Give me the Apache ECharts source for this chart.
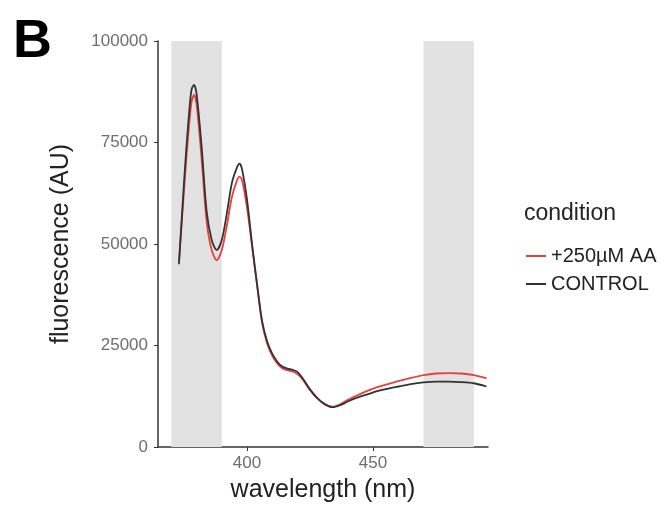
<!DOCTYPE html>
<html>
<head>
<meta charset="utf-8">
<script src="https://cdn.jsdelivr.net/npm/echarts@6/dist/echarts.min.js"></script>
<style>
  html, body { margin: 0; padding: 0; background: #fff; }
  #container { width: 665px; height: 508px; }
</style>
</head>
<body>
<div id="container"></div>
<script>
// wavelengths (nm) and fluorescence readings (AU)
var wavelengths = [373, 375, 376, 377, 378, 379, 380, 382, 384, 386, 388, 390, 392, 394, 396, 397, 398,
  400, 402, 404, 406, 408, 410, 412, 414, 416, 418, 420, 422, 425, 428, 431, 434, 437, 440,
  444, 448, 452, 456, 460, 465, 470, 475, 480, 485, 490, 495];

var control = [45000, 65000, 74000, 82000, 88000, 89200, 87000, 74000, 58000, 51000, 48500, 51000, 57500, 65000, 68800, 69800, 68500,
  61000, 50000, 40000, 31000, 26000, 23000, 21000, 19800, 19300, 19000, 18500, 17000, 14200, 12000, 10500, 9800, 10300, 11200,
  12200, 13000, 13800, 14400, 14900, 15500, 15900, 16100, 16100, 16000, 15700, 14900];

var aa = [45500, 63000, 71500, 79000, 85000, 86700, 84500, 71000, 55500, 48500, 46000, 48500, 54500, 61500, 65600, 66600, 65800,
  59000, 49500, 40000, 30500, 25500, 22500, 20600, 19400, 18900, 18600, 18000, 16700, 14000, 11900, 10500, 9900, 10500, 11600,
  12800, 13900, 14800, 15500, 16200, 17000, 17700, 18100, 18200, 18100, 17700, 16900];

var shadedRanges = [[370, 390], [470, 490]];
var xTicks = [400, 450];
var seriesNames = ['+250µM AA', 'CONTROL'];

function pairs(xs, ys) {
  return xs.map(function (x, i) { return [x, ys[i]]; });
}

var dom = document.getElementById('container');
var myChart = echarts.init(dom, null, { renderer: 'canvas' });

var font = 'Liberation Sans, Arial, sans-serif';

var option = {
  animation: false,
  backgroundColor: '#ffffff',
  title: [
    {
      text: 'B',
      left: 8,
      top: 10,
      textStyle: { fontSize: 54, fontWeight: 'bold', color: '#000', fontFamily: font }
    },
    {
      text: 'condition',
      left: 519,
      top: 197,
      textStyle: { fontSize: 23, fontWeight: 'normal', color: '#222', fontFamily: font }
    }
  ],
  legend: {
    data: seriesNames,
    orient: 'vertical',
    left: 521,
    top: 241,
    itemWidth: 20,
    itemHeight: 2,
    itemGap: 8,
    icon: 'rect',
    textStyle: { fontSize: 20, color: '#222', fontFamily: font }
  },
  grid: {
    left: 158,
    right: 177,
    top: 41,
    bottom: 61
  },
  xAxis: {
    type: 'value',
    min: 364.7,
    max: 495.6,
    name: 'wavelength (nm)',
    nameLocation: 'middle',
    nameGap: 31,
    nameTextStyle: { fontSize: 25, color: '#222', fontFamily: font },
    axisLine: { onZero: false, lineStyle: { color: '#333', width: 1.5 } },
    axisTick: { show: true, customValues: xTicks, length: 4, lineStyle: { color: '#333' } },
    axisLabel: { customValues: xTicks, fontSize: 17, color: '#6e6e6e', margin: 8, fontFamily: font },
    splitLine: { show: false }
  },
  yAxis: {
    type: 'value',
    min: 0,
    max: 100000,
    interval: 25000,
    name: 'fluorescence (AU)',
    nameLocation: 'middle',
    nameGap: 84,
    nameTextStyle: { fontSize: 25, color: '#222', fontFamily: font },
    axisLine: { show: true, lineStyle: { color: '#333', width: 1.5 } },
    axisTick: { show: true, length: 4, lineStyle: { color: '#333' } },
    axisLabel: {
      fontSize: 17, color: '#6e6e6e', margin: 10, fontFamily: font,
      formatter: function (v) { return String(v); }
    },
    splitLine: { show: false }
  },
  series: [
    {
      name: seriesNames[0],
      type: 'line',
      symbol: 'none',
      smooth: 0.3,
      data: pairs(wavelengths, aa),
      color: '#e8403c',
      lineStyle: { width: 1.8 },
      z: 2,
      markArea: {
        silent: true,
        itemStyle: { color: '#e2e2e2' },
        data: shadedRanges.map(function (r) { return [{ xAxis: r[0] }, { xAxis: r[1] }]; })
      }
    },
    {
      name: seriesNames[1],
      type: 'line',
      symbol: 'none',
      smooth: 0.3,
      data: pairs(wavelengths, control),
      color: '#333333',
      lineStyle: { width: 1.8 },
      z: 3
    }
  ]
};

myChart.setOption(option);
window.onresize = function () {
  myChart.resize();
};
</script>
</body>
</html>
